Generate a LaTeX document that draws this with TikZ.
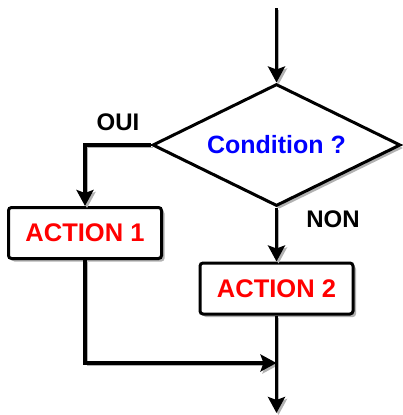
\documentclass[tikz,border=0pt]{standalone}
\usepackage{fontspec}
\setmainfont{Liberation Sans}
\usetikzlibrary{shapes.geometric,arrows.meta,shadows}
\begin{document}
\begin{tikzpicture}[x=1pt,y=-1pt,
  shad/.style={drop shadow={shadow xshift=3pt,shadow yshift=-3pt,fill=black!30,opacity=1}},
  actbox/.style={draw,line width=3pt,rounded corners=3pt,fill=white,minimum width=153pt,minimum height=51pt,inner sep=0pt,font=\fontsize{25.5}{27}\selectfont\bfseries,text={rgb,255:red,255;green,0;blue,0},shad},
  cond/.style={diamond,draw,line width=3pt,fill=white,aspect=2,minimum width=248pt,minimum height=122pt,inner sep=0pt,font=\fontsize{25}{27}\selectfont\bfseries,text={rgb,255:red,0;green,0;blue,255},shad},
  lbl/.style={font=\fontsize{24}{26}\selectfont\bfseries,inner sep=0pt},
  conn/.style={line width=3.5pt,-{Stealth[length=16pt,width=17pt,inset=3pt]},preaction={draw=black!30,transform canvas={shift={(2,2)}}}}
]
\useasboundingbox (0,0) rectangle (403,415);
\node[cond] (c) at (276.5,145) {Condition ?};
\node[actbox] (a1) at (85,233) {ACTION 1};
\node[actbox] (a2) at (276.5,288.5) {ACTION 2};
\node[lbl] (oui) at (118,122) {OUI};
\node[lbl] (non) at (333,219) {NON};
\coordinate (top) at (276.5,8);
\coordinate (join) at (276.5,363);
\coordinate (bot) at (276.5,413);
\draw[conn] (top) -- (c.north);
\draw[conn] (c.west) -| (a1.north);
\draw[conn] (c.south) -- (a2.north);
\draw[conn] (a1.south) |- (join);
\draw[conn] (a2.south) -- (bot);
\end{tikzpicture}
\end{document}
